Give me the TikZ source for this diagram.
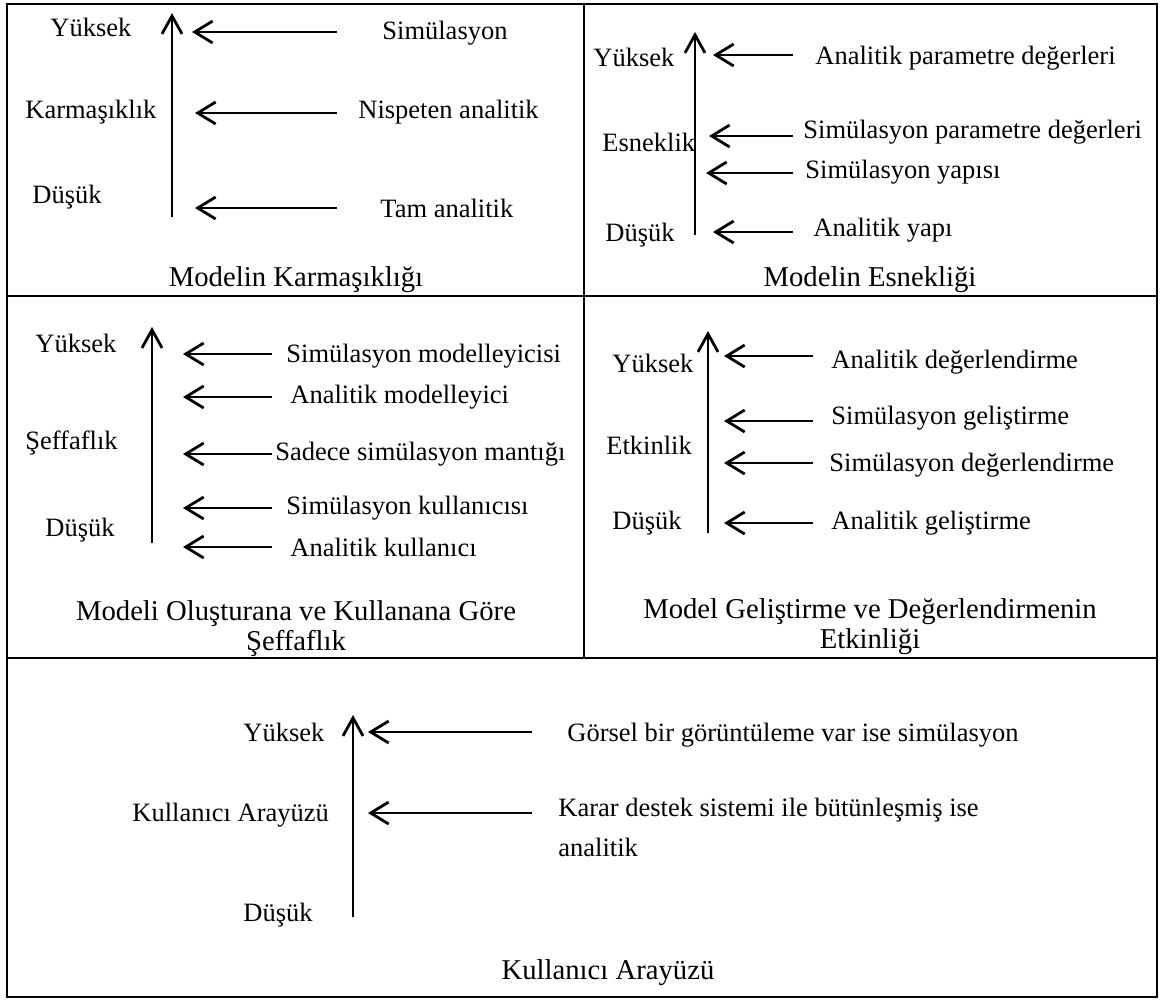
\documentclass[tikz,border=0pt]{standalone}
\usepackage{fontspec}
\setmainfont{Liberation Serif}
\usepackage{tikz}
\usetikzlibrary{arrows.meta}
\tikzset{
  mlbl/.style={inner sep=0pt, anchor=west, font=\fontsize{13.25}{16}\selectfont},
  mttl/.style={inner sep=0pt, align=center, font=\fontsize{14.35}{15}\selectfont},
  mrule/.style={draw=black, line width=1.45pt},
  maxis/.style={draw=black, line width=1.4pt, -{Straight Barb[length=9pt, width=10pt]}},
  mptr/.style={draw=black, line width=1.4pt, -{Straight Barb[length=9pt, width=11pt]}}
}

\begin{document}
\begin{tikzpicture}[x=0.5pt, y=-0.5pt]
  \useasboundingbox (0,0) rectangle (1160,1003);
  % frame
  \draw[mrule] (7,4) rectangle (1157,997);
  \draw[mrule] (584,4) -- (584,658) (7,296) -- (1157,296) (7,658) -- (1157,658);
  % panel 1
  \node[mlbl] (aY) at (50,27) {Yüksek};\node[mlbl] (aK) at (25,112) {Karmaşıklık};\node[mlbl] (aD) at (32,197) {Düşük};
  \coordinate (aBot) at (172,217);\coordinate (aTop) at (172,13);
  \draw[maxis] (aBot) -- (aTop);
  \foreach \n/\y/\t in {1/32/192,2/113/195,3/208/195}{\coordinate (aS\n) at (337,\y);\coordinate (aE\n) at (\t,\y);\draw[mptr] (aS\n) -- (aE\n);}
  \node[mlbl] (a1) at (382,33) {Simülasyon};
  \node[mlbl] (a2) at (358,112) {Nispeten analitik};
  \node[mlbl] (a3) at (380,208) {Tam analitik};
  \node[mttl] (aT) at (296,280) {Modelin Karmaşıklığı};
  % panel 2
  \node[mlbl] (bY) at (593,57) {Yüksek};\node[mlbl] (bE) at (602,142) {Esneklik};\node[mlbl] (bD) at (605,235) {Düşük};
  \coordinate (bBot) at (695,235);\coordinate (bTop) at (695,32);
  \draw[maxis] (bBot) -- (bTop);
  \foreach \n/\y/\t in {1/55/713,2/136/709,3/173/706,4/232/713}{\coordinate (bS\n) at (793,\y);\coordinate (bE\n) at (\t,\y);\draw[mptr] (bS\n) -- (bE\n);}
  \node[mlbl] (b1) at (815,58) {Analitik parametre değerleri};
  \node[mlbl] (b2) at (803,132) {Simülasyon parametre değerleri};
  \node[mlbl] (b3) at (805,172) {Simülasyon yapısı};
  \node[mlbl] (b4) at (813,230) {Analitik yapı};
  \node[mttl] (bT) at (870,280) {Modelin Esnekliği};
  % panel 3
  \node[mlbl] (cY) at (35,343) {Yüksek};\node[mlbl] (cS) at (25,443) {Şeffaflık};\node[mlbl] (cD) at (45,530) {Düşük};
  \coordinate (cBot) at (152,543);\coordinate (cTop) at (152,327);
  \draw[maxis] (cBot) -- (cTop);
  \foreach \n/\y in {1/354,2/397,3/454,4/508,5/547}{\coordinate (cS\n) at (272,\y);\coordinate (cE\n) at (183,\y);\draw[mptr] (cS\n) -- (cE\n);}
  \node[mlbl] (c1) at (286,356) {Simülasyon modelleyicisi};
  \node[mlbl] (c2) at (290,397) {Analitik modelleyici};
  \node[mlbl] (c3) at (275,454) {Sadece simülasyon mantığı};
  \node[mlbl] (c4) at (286,508) {Simülasyon kullanıcısı};
  \node[mlbl] (c5) at (290,547) {Analitik kullanıcı};
  \node[mttl] (cT) at (296,629) {Modeli Oluşturana ve Kullanana Göre\\Şeffaflık};
  % panel 4
  \node[mlbl] (dY) at (612,363) {Yüksek};\node[mlbl] (dE) at (606,445) {Etkinlik};\node[mlbl] (dD) at (612,523) {Düşük};
  \coordinate (dBot) at (708,533);\coordinate (dTop) at (708,331);
  \draw[maxis] (dBot) -- (dTop);
  \foreach \n/\y in {1/356,2/421,3/463,4/523}{\coordinate (dS\n) at (813,\y);\coordinate (dE\n) at (724,\y);\draw[mptr] (dS\n) -- (dE\n);}
  \node[mlbl] (d1) at (831,362) {Analitik değerlendirme};
  \node[mlbl] (d2) at (831,418) {Simülasyon geliştirme};
  \node[mlbl] (d3) at (829,465) {Simülasyon değerlendirme};
  \node[mlbl] (d4) at (831,523) {Analitik geliştirme};
  \node[mttl] (dT) at (870,627) {Model Geliştirme ve Değerlendirmenin\\Etkinliği};
  % panel 5
  \node[mlbl] (eY) at (243,732) {Yüksek};\node[mlbl] (eK) at (132,815) {Kullanıcı Arayüzü};\node[mlbl] (eD) at (243,915) {Düşük};
  \coordinate (eBot) at (353,917);\coordinate (eTop) at (353,715);
  \draw[maxis] (eBot) -- (eTop);
  \foreach \n/\y in {1/732,2/813}{\coordinate (eS\n) at (532,\y);\coordinate (eE\n) at (368,\y);\draw[mptr] (eS\n) -- (eE\n);}
  \node[mlbl] (e1) at (567,735) {Görsel bir görüntüleme var ise simülasyon};
  \node[mlbl, align=left, font=\fontsize{13.25}{20}\selectfont] (e2) at (558,827) {Karar destek sistemi ile bütünleşmiş ise\\analitik};
  \node[mttl] (eT) at (608,973) {Kullanıcı Arayüzü};
\end{tikzpicture}
\end{document}
